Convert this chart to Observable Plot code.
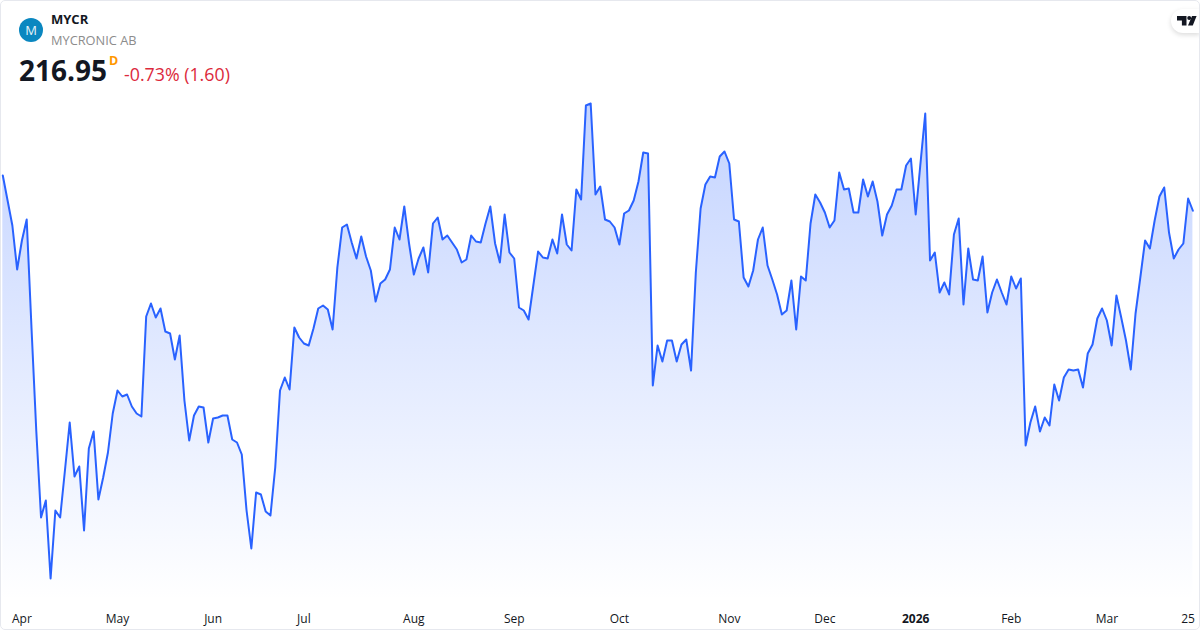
<!DOCTYPE html>
<html>
<head>
<meta charset="utf-8">
<script src="https://cdn.jsdelivr.net/npm/d3@7"></script>
<script src="https://cdn.jsdelivr.net/npm/@observablehq/plot@0.6"></script>
<style>
  html, body { margin: 0; padding: 0; background: #fff; }
  body { width: 1200px; height: 630px; overflow: hidden; position: relative; font-family: "Open Sans", sans-serif; }
  #chart { position: absolute; left: 0; top: 0; width: 1200px; height: 630px; }
  #chart svg { display: block; }
  .frame { position: absolute; inset: 0; border: 1px solid #e6e8ee; border-radius: 5px; box-sizing: border-box; pointer-events: none; }
  .h { position: absolute; white-space: nowrap; line-height: 1; }
  .logo { left: 19px; top: 18px; width: 24px; height: 24px; border-radius: 50%; background: #0a87c0; color: #e8f4fa; font-size: 13px; text-align: center; line-height: 24px; }
  .sym { left: 51px; top: 13px; font-size: 13px; font-weight: 700; color: #131722; }
  .name { left: 51px; top: 34px; font-size: 12.8px; color: #8c8c8c; }
  .price { left: 19px; top: 56px; font-size: 28px; font-weight: 700; color: #131722; }
  .res { left: 109px; top: 55px; font-size: 12.5px; font-weight: 700; color: #ff9800; }
  .chg { left: 124px; top: 66px; font-size: 17.8px; color: #dc2a3c; }
  .tv { position: absolute; right: 0; top: 9px; width: 29px; height: 24px; background: #fff; border-radius: 12px 0 0 12px; box-shadow: 0 2px 5px rgba(0,0,0,.14); }
</style>
</head>
<body>
<div id="chart"></div>
<div class="h logo">M</div>
<div class="h sym">MYCR</div>
<div class="h name">MYCRONIC AB</div>
<div class="h price">216.95</div>
<div class="h res">D</div>
<div class="h chg">-0.73% (1.60)</div>
<div class="tv"><svg width="29" height="24" viewBox="0 0 29 24"><path fill="#131722" d="M6 7h9.5v9.5h-4.6v-5H6zM21 7h4.6l-3.8 9.5h-4.8z"/><circle cx="18.2" cy="9" r="2" fill="#131722"/></svg></div>
<div class="frame"></div>
<script>
const closes = [
  224.0,219.0,214.0,205.2,211.0,215.2,193.6,173.0,155.6,159.0,143.4,157.0,155.6,165.0,174.6,163.8,165.8,153.0,169.4,172.8,
  159.2,163.6,168.6,176.4,181.0,179.8,180.2,177.8,176.4,175.8,195.8,198.4,195.6,197.4,192.8,192.4,187.2,192.0,179.0,171.0,
  176.0,177.8,177.6,170.6,175.4,175.6,176.0,176.0,171.2,170.6,168.2,157.0,149.4,160.6,160.2,156.8,156.0,165.6,181.0,183.6,
  181.2,193.6,191.6,190.4,190.0,193.4,197.4,198.0,197.2,193.2,205.6,213.6,214.2,210.6,207.4,211.8,207.8,205.0,198.8,202.4,
  203.2,205.2,213.6,211.2,217.8,210.4,204.2,207.4,209.6,204.6,214.4,215.6,211.2,212.0,210.6,209.2,206.6,207.2,212.0,210.8,
  210.6,214.4,217.8,210.4,206.6,216.2,208.6,207.4,197.6,197.0,195.2,202.0,208.8,207.6,207.4,211.2,208.4,216.2,210.2,209.0,
  221.2,219.2,238.0,238.4,220.2,221.8,215.2,214.8,213.6,210.2,216.4,217.0,219.0,222.8,228.6,228.4,182.0,190.0,186.8,191.0,
  191.0,186.8,190.2,191.2,185.0,204.6,217.4,222.2,223.8,223.6,227.8,228.8,226.4,215.2,214.8,203.6,201.8,205.0,211.2,213.6,
  206.0,203.2,200.2,196.2,197.0,203.0,193.2,203.8,203.0,214.4,220.2,218.6,216.6,213.6,215.0,224.6,221.2,221.4,216.6,216.6,
  223.2,219.8,222.8,218.8,212.0,216.2,218.0,221.2,221.2,226.0,227.4,216.2,226.4,236.4,207.0,208.6,200.6,202.6,200.2,212.2,
  215.4,198.2,209.4,203.2,203.0,207.8,196.6,200.6,203.2,200.6,198.2,203.8,201.4,203.4,170.0,174.6,177.8,172.8,175.6,174.0,
  182.2,179.0,183.6,185.2,185.0,185.2,181.6,188.4,190.2,195.4,197.4,195.0,190.0,200.0,195.6,191.0,185.2,196.4,203.6,211.0,
  209.4,215.0,219.8,221.6,212.6,207.4,209.2,210.4,219.4,216.95
];
const monthSessions = [4, 24, 44, 63, 86, 107, 129, 152, 172, 211, 231, 248];
const monthLabels = ["Apr", "May", "Jun", "Jul", "Aug", "Sep", "Oct", "Nov", "Dec", "Feb", "Mar", "25"];
const yearSessions = [191];
const yearLabels = ["2026"];
const priceFloor = 139;
const priceCeil = 259;

const sessions = closes.map((c, i) => ({ i, c }));
const gradient = () => {
  const defs = d3.create("svg:defs");
  const g = defs.append("linearGradient").attr("id", "fade").attr("x1", 0).attr("y1", 0).attr("x2", 0).attr("y2", 1);
  g.append("stop").attr("offset", "0%").attr("stop-color", "#2962ff").attr("stop-opacity", 0.28);
  g.append("stop").attr("offset", "100%").attr("stop-color", "#2962ff").attr("stop-opacity", 0);
  return defs.node();
};

const plot = Plot.plot({
  width: 1200,
  height: 630,
  marginLeft: 2.3,
  marginRight: 7.6,
  marginTop: 0,
  marginBottom: 30,
  style: { background: "transparent", fontFamily: '"Open Sans", sans-serif' },
  x: { type: "linear", domain: [0, closes.length - 1] },
  y: { domain: [priceFloor, priceCeil], axis: null },
  marks: [
    gradient,
    Plot.areaY(sessions, { x: "i", y1: () => priceFloor, y2: "c", fill: "url(#fade)" }),
    Plot.lineY(sessions, { x: "i", y: "c", stroke: "#2962ff", strokeWidth: 2, strokeLinejoin: "round" }),
    Plot.axisX({ anchor: "bottom", ticks: monthSessions, tickFormat: d => monthLabels[monthSessions.indexOf(d)], tickSize: 0, tickPadding: 13.5, fontSize: 12, fill: "#131722", label: null }),
    Plot.axisX({ anchor: "bottom", ticks: yearSessions, tickFormat: d => yearLabels[yearSessions.indexOf(d)], tickSize: 0, tickPadding: 13.5, fontSize: 12, fontWeight: 700, fill: "#131722", label: null })
  ]
});
document.getElementById("chart").appendChild(plot);
</script>
</body>
</html>
